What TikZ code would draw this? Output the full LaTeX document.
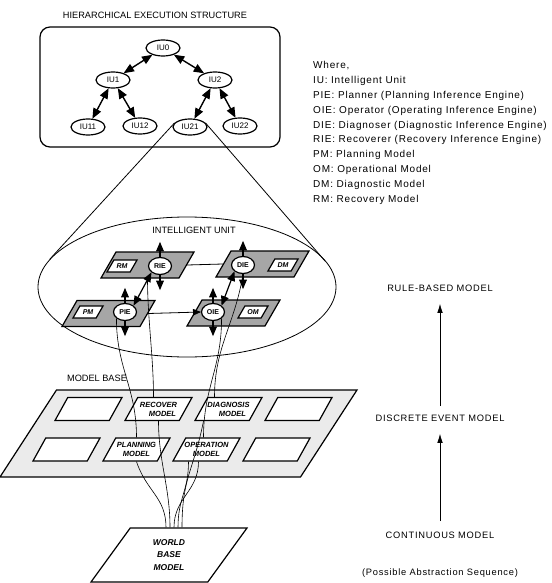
\documentclass[tikz,border=0pt]{standalone}
\usepackage{fontspec}
\setmainfont{Liberation Sans}
\newfontfamily\spacedfont[LetterSpace=8]{Liberation Sans}
\usepackage{tikz}
\usetikzlibrary{shapes.geometric, arrows, arrows.meta, positioning, calc}
\tikzstyle{iu} = [ellipse, draw, very thick, fill=white, inner sep=0pt, minimum width=34pt, minimum height=16pt, font=\fontsize{8}{8}\selectfont]
\tikzstyle{iuarrow} = [line width=1.4pt, <->, >=triangle 45]
\tikzstyle{caption} = [font=\fontsize{9.2}{10}\selectfont]
\tikzstyle{para} = [trapezium, trapezium stretches body, draw, very thick, inner xsep=0pt]
\tikzstyle{panel} = [para, trapezium left angle=60, trapezium right angle=120, fill=black!35, minimum width=93pt, inner ysep=13pt]
\tikzstyle{engine} = [ellipse, draw, very thick, fill=white, inner sep=0pt, minimum width=23pt, minimum height=17pt, font=\fontsize{7}{7}\selectfont\bfseries]
\tikzstyle{tag} = [para, trapezium left angle=60, trapezium right angle=120, fill=white, inner ysep=3.5pt, minimum width=30pt, font=\fontsize{7}{7}\selectfont\bfseries\itshape]
\tikzstyle{engarrow} = [very thick, ->, >=triangle 45]
\tikzstyle{wire} = [semithick]
\tikzstyle{modelbox} = [para, trapezium left angle=61, trapezium right angle=119, fill=white, minimum width=67pt, inner ysep=11.5pt]
\tikzstyle{modeltext} = [align=center, inner sep=0pt, font=\fontsize{7.5}{9}\selectfont\bfseries\itshape]
\tikzstyle{absarrow} = [semithick, -{Latex[length=9pt,width=5.5pt]}]
\tikzstyle{abslabel} = [font=\fontsize{9.3}{10}\selectfont\spacedfont]

\begin{document}
\begin{tikzpicture}[x=1pt, y=-1pt]
  \useasboundingbox (0,0) rectangle (551,583);

  % hierarchical execution structure
  \node[caption] (hestitle) at (155,15) {HIERARCHICAL EXECUTION STRUCTURE};
  \node[draw, very thick, rounded corners=10pt, minimum width=240pt, minimum height=120pt] (hesbox) at (160,87) {};
  \node[iu] (iu0) at (163,48) {IU0};
  \node[iu] (iu1) at (113,80) {IU1};
  \node[iu] (iu2) at (215,80) {IU2};
  \node[iu] (iu11) at (88,127) {IU11};
  \node[iu] (iu12) at (140,126) {IU12};
  \node[iu] (iu21) at (190,127) {IU21};
  \node[iu] (iu22) at (240,126) {IU22};
  \draw[iuarrow] (iu0) -- (iu1);
  \draw[iuarrow] (iu0) -- (iu2);
  \draw[iuarrow] (iu1) -- (iu11);
  \draw[iuarrow] (iu1) -- (iu12);
  \draw[iuarrow] (iu2) -- (iu21);
  \draw[iuarrow] (iu2) -- (iu22);

  % legend
  \node[anchor=north west, inner sep=0pt, align=left, font=\fontsize{10}{14.8}\selectfont\spacedfont] (legend) at (313,61.5)
    {Where,\\IU: Intelligent Unit\\PIE: Planner (Planning Inference Engine)\\OIE: Operator (Operating Inference Engine)\\DIE: Diagnoser (Diagnostic Inference Engine)\\RIE: Recoverer (Recovery Inference Engine)\\PM: Planning Model\\OM: Operational Model\\DM: Diagnostic Model\\RM: Recovery Model};

  % intelligent unit
  \node[draw, thick, ellipse, minimum width=298pt, minimum height=140pt] (iubig) at (187,287) {};
  \coordinate (tanl) at (50,259);
  \coordinate (tanr) at (325,261);
  \draw[thick] (iu21.165) -- (tanl);
  \draw[thick] (iu21.15) -- (tanr);
  \node[caption] (iulabel) at (194,230) {INTELLIGENT UNIT};

  \node[panel] (riepanel) at (147.5,265) {};
  \node[panel] (piepanel) at (108.5,313.5) {};
  \node[panel] (diepanel) at (262.5,264) {};
  \node[panel] (oiepanel) at (233.5,313) {};
  \node[tag] (rm) at (122,266) {RM};
  \node[engine] (rie) at (160,266) {RIE};
  \node[tag] (pm) at (88,312) {PM};
  \node[engine] (pie) at (125,312) {PIE};
  \node[engine] (die) at (243,265) {DIE};
  \node[tag] (dm) at (283,265) {DM};
  \node[engine] (oie) at (213,312) {OIE};
  \node[tag] (om) at (253,312) {OM};

  \draw[thick] (riepanel.east) -- (diepanel.west);
  \draw[thick, ->, >=triangle 45] (piepanel.east) -- (oie.west);
  \draw[engarrow, <->] (rie.south west) -- (pie.north east);
  \draw[engarrow, <->] (die.south west) -- (oie.north east);
  \foreach \e in {rie,pie,die,oie} {
    \path (\e.north) ++(0,-15) coordinate (\e-up);
    \path (\e.south) ++(0,15) coordinate (\e-down);
    \draw[engarrow] (\e.north) -- (\e-up);
    \draw[engarrow] (\e.south) -- (\e-down);
  }

  % model base
  \node[caption] (mblabel) at (97,378) {MODEL BASE};
  \node[para, trapezium left angle=57, trapezium right angle=123, fill=black!8, minimum width=357pt, inner ysep=43.5pt] (mbase) at (178.5,433.5) {};
  \node[modelbox] (mb1) at (88.5,409) {};
  \node[modelbox, label={[modeltext]center:{RECOVER\\\hspace*{8pt}MODEL}}] (recover) at (158.5,409) {};
  \node[modelbox, label={[modeltext]center:{DIAGNOSIS\\\hspace*{8pt}MODEL}}] (diagnosis) at (228.5,409) {};
  \node[modelbox] (mb4) at (298.5,409) {};
  \node[modelbox] (mb5) at (66.5,449.5) {};
  \node[modelbox, label={[modeltext]center:{PLANNING\\MODEL}}] (planning) at (136.5,449.5) {};
  \node[modelbox, label={[modeltext]center:{OPERATION\\MODEL}}] (operation) at (206.5,449.5) {};
  \node[modelbox] (mb8) at (276.5,449.5) {};

  % world base model
  \node[para, trapezium left angle=54, trapezium right angle=126, fill=white, minimum width=156pt, inner ysep=27pt,
    label={[align=center, font=\fontsize{8.5}{12.5}\selectfont\bfseries\itshape]center:{WORLD\\BASE\\MODEL}}] (world) at (169,555) {};

  \draw[wire] (riepanel.south) .. controls +(0,40) and +(0,-40) .. ([xshift=-5pt]recover.north);
  \draw[wire] (pie.south west) .. controls +(0,50) and +(0,-50) .. (planning.north);
  \draw[wire] (die.south) .. controls +(-8,50) and +(0,-50) .. ([xshift=-14pt]diagnosis.north);
  \draw[wire] (oie.south east) .. controls +(0,50) and +(0,-50) .. ([xshift=-3pt]operation.north);
  \draw[wire] (planning.south) .. controls +(10,30) and +(0,-30) .. ([xshift=-3pt]world.north);
  \draw[wire] (recover.south) .. controls +(0,40) and +(0,-40) .. ([xshift=1pt]world.north);
  \draw[wire] ([xshift=-8pt]operation.south) .. controls +(0,30) and +(0,-30) .. ([xshift=5pt]world.north);
  \draw[wire] ([xshift=-18pt]operation.south) .. controls +(0,30) and +(0,-30) .. ([xshift=9pt]world.north);
  \draw[wire] ([xshift=-25pt]diagnosis.south) .. controls +(-10,50) and +(0,-50) .. ([xshift=13pt]world.north);

  % abstraction sequence
  \node[abslabel] (rule) at (440,288) {RULE-BASED MODEL};
  \node[abslabel] (disc) at (440,418) {DISCRETE EVENT MODEL};
  \node[abslabel] (cont) at (440,535) {CONTINUOUS MODEL};
  \node[abslabel] (seq) at (440,573) {(Possible Abstraction Sequence)};
  \draw[absarrow, shorten <=5pt, shorten >=9pt] (disc) -- (rule);
  \draw[absarrow, shorten <=7pt, shorten >=9pt] (cont) -- (disc);
\end{tikzpicture}
\end{document}
